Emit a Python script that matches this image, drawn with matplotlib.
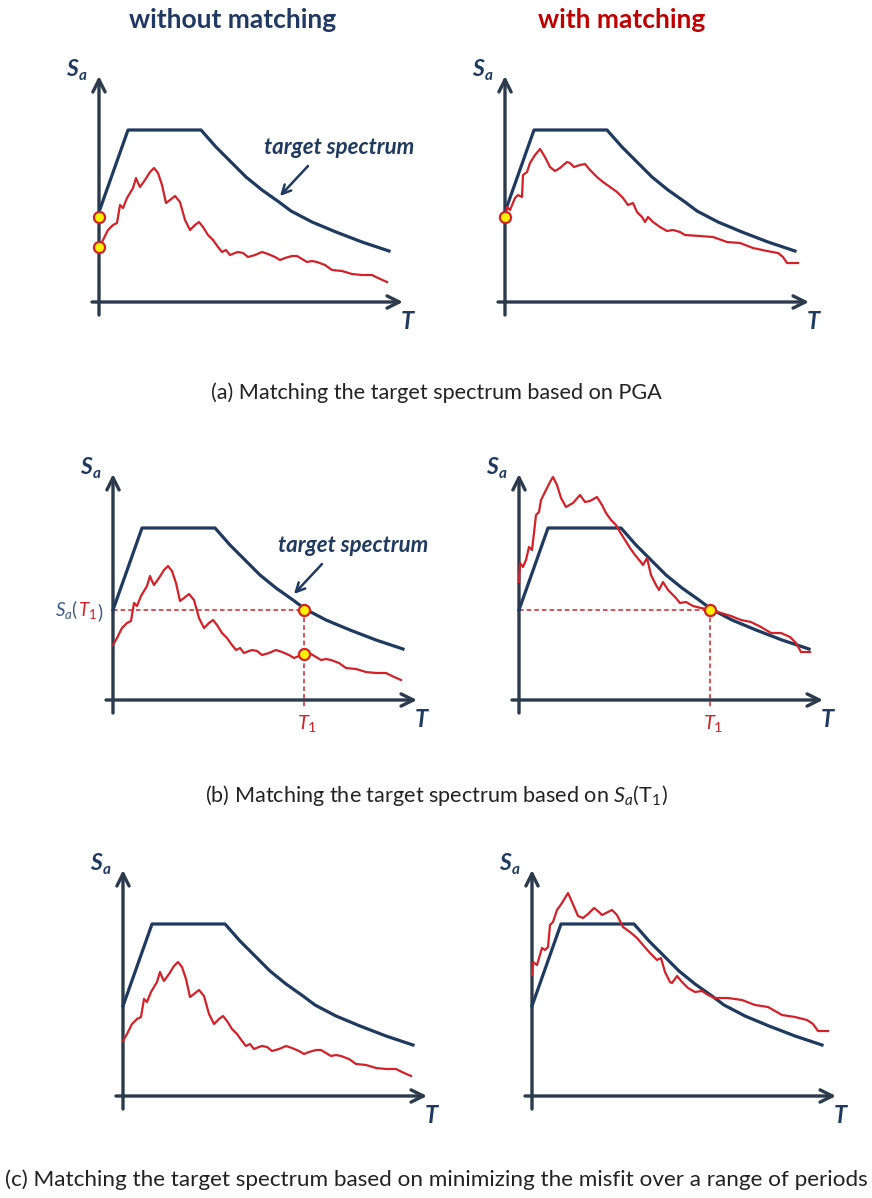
import matplotlib.pyplot as plt

plt.rcParams['font.family'] = ['Lato', 'DejaVu Sans']
plt.rcParams['mathtext.fontset'] = 'custom'
plt.rcParams['mathtext.rm'] = 'Lato'
plt.rcParams['mathtext.it'] = 'Lato:italic'
plt.rcParams['mathtext.bf'] = 'Lato:bold'

# target (design) spectrum (period, Sa) in drawing units
tgt_T = [0, 29, 102, 117, 130, 147, 163, 180, 192, 213, 237, 263, 290]
tgt_S = [90, 172, 172, 155, 142, 125, 112, 100, 91, 80, 70, 60, 51]

# unscaled record (same in the three left panels)
rec_T = [0, 4, 9, 14, 18, 21, 24, 28, 31, 34, 37, 39, 41, 46, 51, 55, 59, 63, 67,
         71, 76, 81, 86, 91, 96, 100, 104, 109, 114, 119, 123, 127, 131, 136, 139,
         144, 149, 156, 163, 169, 176, 181, 186, 193, 198, 203, 208, 213, 218, 226,
         233, 243, 253, 263, 273, 279, 288]
rec_S = [55, 62, 72, 77, 79, 97, 94, 104, 109, 114, 124, 119, 115, 122, 130, 134,
         129, 117, 99, 102, 106, 100, 82, 72, 77, 80, 75, 67, 62, 55, 50, 52, 47,
         49, 50, 49, 45, 47, 50, 48, 45, 42, 44, 46, 46, 43, 40, 41, 40, 37, 32,
         31, 28, 27, 27, 24, 20]

# record scaled to PGA
pga_T = [0, 2, 5, 10, 13, 17, 18, 22, 25, 30, 35, 40, 45, 50, 55, 62, 65, 69, 75,
         80, 85, 92, 98, 105, 112, 118, 123, 128, 132, 137, 140, 143, 148, 155, 162,
         168, 175, 180, 195, 208, 222, 235, 248, 262, 273, 278, 282, 293]
pga_S = [84, 95, 92, 104, 107, 105, 127, 130, 139, 147, 153, 145, 135, 131, 134,
         140, 139, 135, 137, 138, 132, 125, 120, 115, 110, 104, 97, 99, 90, 85, 80,
         85, 80, 75, 71, 72, 70, 67, 66, 65, 60, 59, 54, 51, 49, 45, 39, 39]

# record scaled to Sa(T1)
sa1_T = [0, 1, 4, 7, 10, 13, 15, 17, 20, 22, 27, 31, 34, 38, 42, 47, 54, 61, 66,
         71, 78, 83, 87, 92, 97, 101, 106, 111, 116, 121, 124, 128, 132, 137, 140,
         144, 149, 156, 161, 167, 174, 182, 192, 202, 212, 222, 232, 242, 252, 262,
         271, 277, 282, 291]
sa1_S = [118, 137, 133, 140, 153, 150, 167, 185, 188, 200, 210, 218, 223, 215, 202,
         193, 197, 205, 198, 199, 203, 195, 187, 180, 175, 168, 160, 152, 145, 139,
         135, 142, 125, 115, 110, 118, 110, 103, 97, 98, 94, 92, 90, 87, 84, 80, 78,
         73, 67, 67, 63, 57, 48, 48]

# record scaled by minimising misfit over a period range
mse_T = [0, 1, 5, 10, 13, 16, 18, 21, 25, 30, 36, 40, 46, 51, 56, 62, 67, 70, 80,
         85, 91, 98, 105, 111, 118, 125, 129, 133, 138, 140, 145, 150, 156, 163,
         170, 176, 183, 196, 210, 223, 236, 250, 263, 275, 281, 286, 296]
mse_S = [121, 134, 131, 148, 146, 149, 171, 174, 186, 193, 203, 194, 180, 178, 182,
         188, 184, 181, 186, 181, 169, 164, 158, 151, 143, 136, 138, 124, 114, 113,
         120, 114, 108, 104, 105, 101, 98, 98, 96, 91, 89, 81, 79, 76, 72, 65, 65]

T1 = 191
Sa_T1 = 90
rec_T1 = 46
pga_rec = 55
pga_tgt = 85

W, H = 872, 1198
navy = '#1F3A60'
axc = '#2B3A4C'
red = '#D42027'

fig = plt.figure(figsize=(W / 100, H / 100), dpi=100)

X0, X1, Y0, Y1 = -60, 320, -40, 245


def panel(ox, oy):
    ax = fig.add_axes([(ox + X0) / W, (H - oy + Y0) / H, (X1 - X0) / W, (Y1 - Y0) / H])
    ax.set_xlim(X0, X1)
    ax.set_ylim(Y0, Y1)
    ax.axis('off')
    arr = dict(arrowstyle='->', lw=2.4, color=axc, mutation_scale=22, shrinkA=0, shrinkB=0)
    ax.annotate('', xy=(0, 226), xytext=(0, -13), arrowprops=arr)
    ax.annotate('', xy=(304, 0), xytext=(-7, 0), arrowprops=arr)
    ax.text(-33, 222, 'S', color=navy, fontsize=16.5, fontweight='bold', style='italic',
            ha='left', va='bottom')
    ax.text(-20, 219, 'a', color=navy, fontsize=11, fontweight='bold', style='italic',
            ha='left', va='bottom')
    ax.text(302, -31, 'T', color=navy, fontsize=17, fontweight='bold', style='italic',
            ha='left', va='bottom')
    return ax


def target(ax):
    ax.plot(tgt_T, tgt_S, color=navy, lw=2.3, solid_joinstyle='round', zorder=3)


def record(ax, t, s):
    ax.plot(t, s, color=red, lw=1.6, solid_joinstyle='round', zorder=4)


def dot(ax, t, s):
    ax.plot(t, s, 'o', ms=8, mfc='#FFF200', mec=red, mew=1.6, zorder=6, clip_on=False)


def label_target(ax):
    ax.text(240, 154, 'target spectrum', color=navy, fontsize=16, fontweight='bold',
            style='italic', ha='center', va='center')
    ax.annotate('', xy=(181, 106), xytext=(209, 136),
                arrowprops=dict(arrowstyle='->', lw=1.8, color=navy, mutation_scale=16,
                                shrinkA=0, shrinkB=0))


def t1_lines(ax, left_end):
    ax.plot([0, T1], [Sa_T1, Sa_T1], color=red, lw=1.1, ls=(0, (3, 2)), zorder=2)
    ax.plot([T1, T1], [Sa_T1, left_end], color=red, lw=1.1, ls=(0, (3, 2)), zorder=2)
    ax.text(T1 + 3, -24, r'$\mathit{T_1}$', color=red, fontsize=14.5, ha='center', va='center')


# (a) PGA
ax = panel(99, 302)
target(ax)
record(ax, rec_T, rec_S)
label_target(ax)
dot(ax, [0, 0], [pga_tgt, pga_rec])

ax = panel(505, 302)
target(ax)
record(ax, pga_T, pga_S)
dot(ax, [0], [pga_tgt])

# (b) Sa(T1)
ax = panel(113, 700)
target(ax)
record(ax, rec_T, rec_S)
label_target(ax)
t1_lines(ax, -7)
dot(ax, [T1, T1], [Sa_T1, rec_T1])
lab = ax.text(-58, Sa_T1 - 6, r'$S_a$(', color='#3B5A85', fontsize=13.5, ha='left',
              va='baseline')
lab2 = ax.annotate(r'$\mathit{T_1}$', xy=(1, 0), xycoords=lab, color=red, fontsize=13.5,
                   ha='left', va='bottom')
ax.annotate(')', xy=(1, 0), xycoords=lab2, color='#3B5A85', fontsize=13.5,
            ha='left', va='bottom')

ax = panel(519, 700)
target(ax)
record(ax, sa1_T, sa1_S)
t1_lines(ax, -7)
dot(ax, [T1], [Sa_T1])

# (c) misfit over a range of periods
ax = panel(123, 1096)
target(ax)
record(ax, rec_T, rec_S)

ax = panel(532, 1096)
target(ax)
record(ax, mse_T, mse_S)

fig.text(233 / W, 1 - 20 / H, 'without matching', color='#1F3864', fontsize=19,
         fontweight='bold', ha='center', va='center')
fig.text(622 / W, 1 - 20 / H, 'with matching', color='#C00000', fontsize=19,
         fontweight='bold', ha='center', va='center')

cap = dict(fontsize=15.6, color='#222222', ha='center', va='center')
fig.text(436 / W, 1 - 393 / H, '(a) Matching the target spectrum based on PGA', **cap)
fig.text(436 / W, 1 - 795 / H,
         r'(b) Matching the target spectrum based on $S_a(\mathrm{T}_1)$', **cap)
fig.text(436 / W, 1 - 1180 / H,
         '(c) Matching the target spectrum based on minimizing the misfit over a range of periods',
         fontsize=16.2, color='#222222', ha='center', va='center')

fig.savefig('out.png', dpi=100)
